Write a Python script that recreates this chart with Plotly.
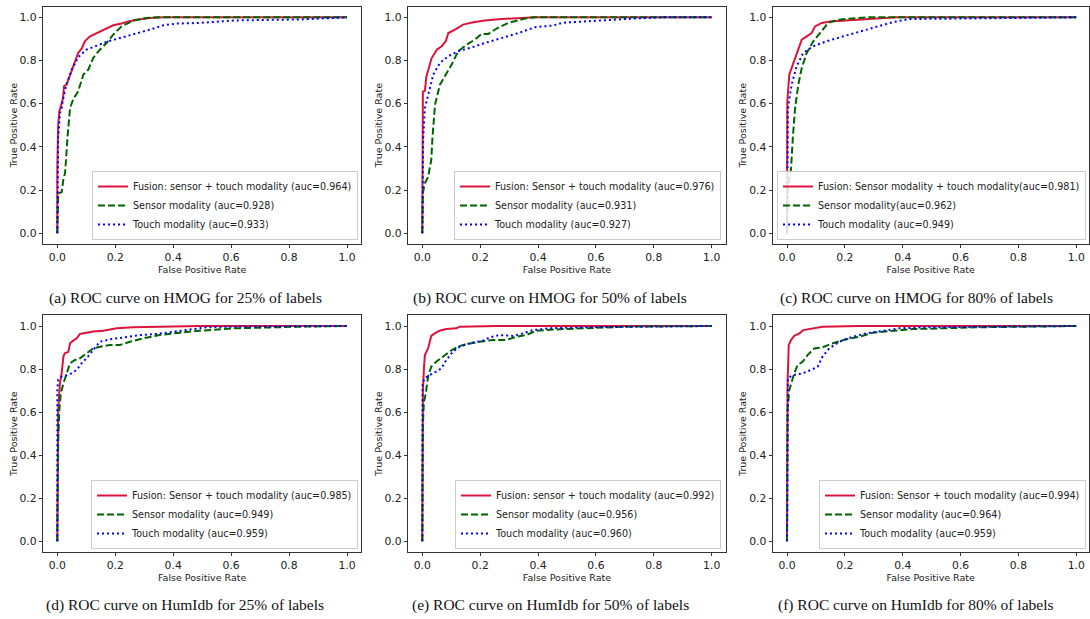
import plotly.graph_objects as go

# ---------------- data ----------------
captions = [
    "(a) ROC curve on HMOG for 25% of labels",
    "(b) ROC curve on HMOG for 50% of labels",
    "(c) ROC curve on HMOG for 80% of labels",
    "(d) ROC curve on HumIdb for 25% of labels",
    "(e) ROC curve on HumIdb for 50% of labels",
    "(f) ROC curve on HumIdb for 80% of labels",
]

names_a = ["Fusion: sensor + touch modality (auc=0.964)", "Sensor modality (auc=0.928)", "Touch modality (auc=0.933)"]
names_b = ["Fusion: Sensor + touch modality (auc=0.976)", "Sensor modality (auc=0.931)", "Touch modality (auc=0.927)"]
names_c = ["Fusion: Sensor modality + touch modality(auc=0.981)", "Sensor modality(auc=0.962)", "Touch modality (auc=0.949)"]
names_d = ["Fusion: Sensor + touch modality (auc=0.985)", "Sensor modality (auc=0.949)", "Touch modality (auc=0.959)"]
names_e = ["Fusion: sensor + touch modality (auc=0.992)", "Sensor modality (auc=0.956)", "Touch modality (auc=0.960)"]
names_f = ["Fusion: Sensor + touch modality (auc=0.994)", "Sensor modality (auc=0.964)", "Touch modality (auc=0.959)"]

# (a) HMOG 25%
a_fus_x = [0, 0.0, 0.003, 0.007, 0.013, 0.02, 0.023, 0.032, 0.038, 0.05, 0.061, 0.072, 0.084, 0.095, 0.113, 0.136, 0.159, 0.193, 0.222, 0.245, 0.274, 0.32, 0.366, 0.6, 1.0]
a_fus_y = [0, 0.3, 0.5, 0.565, 0.59, 0.627, 0.68, 0.688, 0.71, 0.758, 0.796, 0.835, 0.855, 0.889, 0.912, 0.927, 0.943, 0.963, 0.971, 0.981, 0.989, 0.997, 1.0, 1.0, 1.0]
a_sen_x = [0, 0.003, 0.015, 0.021, 0.027, 0.032, 0.035, 0.044, 0.055, 0.072, 0.09, 0.107, 0.124, 0.147, 0.17, 0.193, 0.222, 0.262, 0.308, 0.35, 0.6, 1.0]
a_sen_y = [0, 0.185, 0.19, 0.25, 0.28, 0.386, 0.44, 0.58, 0.62, 0.657, 0.735, 0.758, 0.812, 0.85, 0.881, 0.92, 0.958, 0.985, 0.997, 1.0, 1.0, 1.0]
a_tou_x = [0, 0.002, 0.003, 0.009, 0.015, 0.021, 0.032, 0.05, 0.072, 0.1, 0.136, 0.176, 0.216, 0.262, 0.32, 0.366, 0.412, 0.49, 0.55, 0.607, 0.72, 0.838, 1.0]
a_tou_y = [0, 0.3, 0.44, 0.556, 0.58, 0.63, 0.69, 0.758, 0.815, 0.85, 0.869, 0.889, 0.904, 0.92, 0.943, 0.963, 0.971, 0.974, 0.978, 0.985, 0.988, 0.99, 1.0]

# (b) HMOG 50%
b_fus_x = [0, 0.0, 0.002, 0.009, 0.014, 0.021, 0.032, 0.05, 0.067, 0.081, 0.09, 0.113, 0.141, 0.176, 0.216, 0.274, 0.343, 0.39, 0.6, 1.0]
b_fus_y = [0, 0.4, 0.656, 0.66, 0.725, 0.758, 0.81, 0.85, 0.866, 0.889, 0.927, 0.943, 0.966, 0.977, 0.985, 0.992, 0.997, 1.0, 1.0, 1.0]
b_sen_x = [0, 0.002, 0.008, 0.02, 0.031, 0.035, 0.044, 0.061, 0.078, 0.101, 0.124, 0.153, 0.182, 0.205, 0.228, 0.257, 0.297, 0.355, 0.385, 0.6, 1.0]
b_sen_y = [0, 0.185, 0.23, 0.26, 0.34, 0.44, 0.596, 0.688, 0.727, 0.78, 0.843, 0.873, 0.897, 0.923, 0.923, 0.948, 0.974, 0.994, 1.0, 1.0, 1.0]
b_tou_x = [0, 0.002, 0.003, 0.009, 0.026, 0.038, 0.061, 0.09, 0.124, 0.165, 0.216, 0.274, 0.332, 0.389, 0.452, 0.486, 0.544, 0.659, 0.74, 0.832, 1.0]
b_tou_y = [0, 0.25, 0.44, 0.58, 0.673, 0.735, 0.789, 0.82, 0.843, 0.858, 0.881, 0.904, 0.927, 0.954, 0.962, 0.975, 0.98, 0.988, 0.995, 1.0, 1.0]

# (c) HMOG 80%
c_fus_x = [0, 0.0, 0.001, 0.008, 0.016, 0.028, 0.039, 0.051, 0.068, 0.085, 0.097, 0.12, 0.149, 0.206, 0.264, 0.379, 0.6, 1.0]
c_fus_y = [0, 0.44, 0.61, 0.735, 0.765, 0.812, 0.858, 0.897, 0.912, 0.927, 0.958, 0.974, 0.981, 0.985, 0.99, 1.0, 1.0, 1.0]
c_sen_x = [0, 0.002, 0.008, 0.014, 0.02, 0.028, 0.039, 0.051, 0.068, 0.091, 0.114, 0.142, 0.177, 0.24, 0.28, 0.6, 1.0]
c_sen_y = [0, 0.2, 0.247, 0.3, 0.44, 0.58, 0.688, 0.765, 0.835, 0.889, 0.927, 0.974, 0.989, 0.997, 1.0, 1.0, 1.0]
c_tou_x = [0, 0.001, 0.003, 0.005, 0.016, 0.033, 0.056, 0.091, 0.137, 0.195, 0.252, 0.31, 0.367, 0.423, 0.517, 0.6, 0.8, 1.0]
c_tou_y = [0, 0.51, 0.56, 0.596, 0.688, 0.773, 0.835, 0.866, 0.889, 0.912, 0.935, 0.958, 0.978, 0.992, 0.994, 0.995, 0.997, 1.0]

# (d) HumIdb 25%
d_fus_x = [0, 0.002, 0.003, 0.009, 0.015, 0.021, 0.026, 0.038, 0.044, 0.055, 0.067, 0.078, 0.101, 0.124, 0.159, 0.205, 0.262, 0.377, 0.49, 1.0]
d_fus_y = [0, 0.3, 0.61, 0.733, 0.78, 0.858, 0.873, 0.88, 0.92, 0.932, 0.943, 0.963, 0.97, 0.974, 0.978, 0.989, 0.994, 0.997, 1.0, 1.0]
d_sen_x = [0, 0.003, 0.007, 0.012, 0.021, 0.032, 0.044, 0.061, 0.078, 0.101, 0.124, 0.147, 0.182, 0.216, 0.251, 0.297, 0.354, 0.423, 0.49, 0.606, 0.721, 0.837, 1.0]
d_sen_y = [0, 0.455, 0.61, 0.687, 0.733, 0.78, 0.827, 0.842, 0.85, 0.873, 0.896, 0.904, 0.912, 0.912, 0.927, 0.943, 0.958, 0.969, 0.978, 0.989, 0.994, 0.997, 1.0]
d_tou_x = [0, 0.0, 0.003, 0.015, 0.032, 0.049, 0.067, 0.084, 0.101, 0.124, 0.147, 0.182, 0.228, 0.288, 0.343, 0.4, 0.458, 0.516, 0.608, 1.0]
d_tou_y = [0, 0.703, 0.75, 0.765, 0.772, 0.78, 0.796, 0.827, 0.85, 0.889, 0.927, 0.938, 0.947, 0.958, 0.963, 0.974, 0.985, 0.994, 0.997, 1.0]

# (e) HumIdb 50%
e_fus_x = [0, 0.002, 0.006, 0.009, 0.02, 0.025, 0.031, 0.043, 0.06, 0.083, 0.118, 0.129, 0.256, 1.0]
e_fus_y = [0, 0.703, 0.811, 0.865, 0.896, 0.927, 0.954, 0.966, 0.978, 0.986, 0.989, 0.997, 1.0, 1.0]
e_sen_x = [0, 0.002, 0.005, 0.012, 0.02, 0.031, 0.048, 0.071, 0.094, 0.123, 0.152, 0.198, 0.244, 0.29, 0.325, 0.359, 0.394, 0.486, 0.601, 0.717, 1.0]
e_sen_y = [0, 0.532, 0.64, 0.687, 0.765, 0.811, 0.834, 0.858, 0.881, 0.904, 0.916, 0.927, 0.935, 0.935, 0.95, 0.958, 0.978, 0.986, 0.992, 0.997, 1.0]
e_tou_x = [0, 0.001, 0.008, 0.025, 0.048, 0.066, 0.083, 0.106, 0.129, 0.164, 0.21, 0.233, 0.267, 0.313, 0.348, 0.382, 0.44, 0.544, 1.0]
e_tou_y = [0, 0.733, 0.757, 0.772, 0.788, 0.803, 0.842, 0.881, 0.904, 0.92, 0.932, 0.947, 0.958, 0.954, 0.966, 0.981, 0.989, 0.994, 1.0]

# (f) HumIdb 80%
f_fus_x = [0, 0.002, 0.006, 0.014, 0.025, 0.043, 0.056, 0.089, 0.123, 0.25, 1.0]
f_fus_y = [0, 0.733, 0.912, 0.935, 0.954, 0.966, 0.981, 0.989, 0.997, 1.0, 1.0]
f_sen_x = [0, 0.002, 0.008, 0.014, 0.025, 0.037, 0.054, 0.071, 0.094, 0.123, 0.158, 0.204, 0.25, 0.296, 0.365, 0.434, 0.538, 0.653, 1.0]
f_sen_y = [0, 0.61, 0.703, 0.733, 0.78, 0.819, 0.834, 0.865, 0.896, 0.901, 0.92, 0.938, 0.95, 0.969, 0.978, 0.986, 0.989, 0.994, 1.0]
f_tou_x = [0, 0.001, 0.003, 0.02, 0.054, 0.083, 0.106, 0.123, 0.146, 0.181, 0.227, 0.273, 0.331, 0.388, 0.48, 1.0]
f_tou_y = [0, 0.672, 0.757, 0.772, 0.78, 0.796, 0.811, 0.858, 0.896, 0.927, 0.95, 0.966, 0.978, 0.989, 0.994, 1.0]

x_ticks = [0.0, 0.2, 0.4, 0.6, 0.8, 1.0]
y_ticks = [0.0, 0.2, 0.4, 0.6, 0.8, 1.0]
tick_text = ["0.0", "0.2", "0.4", "0.6", "0.8", "1.0"]

panels = [
    (names_a, (a_fus_x, a_fus_y), (a_sen_x, a_sen_y), (a_tou_x, a_tou_y)),
    (names_b, (b_fus_x, b_fus_y), (b_sen_x, b_sen_y), (b_tou_x, b_tou_y)),
    (names_c, (c_fus_x, c_fus_y), (c_sen_x, c_sen_y), (c_tou_x, c_tou_y)),
    (names_d, (d_fus_x, d_fus_y), (d_sen_x, d_sen_y), (d_tou_x, d_tou_y)),
    (names_e, (e_fus_x, e_fus_y), (e_sen_x, e_sen_y), (e_tou_x, e_tou_y)),
    (names_f, (f_fus_x, f_fus_y), (f_sen_x, f_sen_y), (f_tou_x, f_tou_y)),
]

# ---------------- layout (pixels) ----------------
W, H = 1090, 619
# x pixel of data 0 and 1 for each column, y pixel of data 1 and 0 for each row
col_px = [(57.3, 347.0), (422.3, 711.7), (787.0, 1076.3)]
row_px = [(17.3, 233.3), (326.0, 541.3)]
legend_right = [358, 721, 1086]
legend_bottom = [240, 549]
caption_cx = [185, 550, 916]
caption_cy = [298, 605]

styles = [
    dict(color="crimson", width=2, dash="solid"),
    dict(color="darkgreen", width=2, dash="7px,3px"),
    dict(color="blue", width=2, dash="2px,3px"),
]

fig = go.Figure()
FONT = "DejaVu Sans"
for i, (names, *curves) in enumerate(panels):
    r, c = divmod(i, 3)
    k = i + 1
    xs = "" if k == 1 else str(k)
    x0, x1 = col_px[c]
    span = x1 - x0
    left = x0 - 0.05 * span
    right = min(x1 + 0.05 * span, W - 1)
    y1p, y0p = row_px[r]
    vspan = y0p - y1p
    top = y1p - 0.05 * vspan
    bot = y0p + 0.05 * vspan
    rng_right = (right - x0) / span
    leg = "legend" if k == 1 else f"legend{k}"
    for (cx, cy), name, st in zip(curves, names, styles):
        fig.add_trace(go.Scatter(
            x=cx, y=cy, mode="lines", name=name, line=st,
            xaxis="x" + xs, yaxis="y" + xs, legend=leg,
        ))
    axcommon = dict(
        showgrid=False, zeroline=False, showline=True, mirror=True,
        linecolor="#333333", linewidth=1, ticks="outside", ticklen=3,
        tickcolor="#333333", tickfont=dict(family=FONT, size=10.8, color="#222222"),
        title_font=dict(family=FONT, size=9.5, color="#222222"),
    )
    fig.layout["xaxis" + xs] = dict(
        axcommon, domain=[left / W, right / W], range=[-0.05, rng_right],
        anchor="y" + xs, tickvals=x_ticks, ticktext=tick_text,
        title=dict(text="False Positive Rate", standoff=1),
    )
    fig.layout["yaxis" + xs] = dict(
        axcommon, domain=[1 - bot / H, 1 - top / H], range=[-0.05, 1.05],
        anchor="x" + xs, tickvals=y_ticks, ticktext=tick_text,
        title=dict(text="True Positive Rate", standoff=0),
    )
    fig.layout[leg] = dict(
        x=legend_right[c] / W, y=1 - legend_bottom[r] / H,
        xanchor="right", yanchor="bottom",
        bgcolor="rgba(255,255,255,0.85)", bordercolor="#cccccc", borderwidth=1,
        font=dict(family=FONT, size=9.6, color="#222222"),
        tracegroupgap=0, itemwidth=30,
    )
    fig.add_annotation(
        text=captions[i], xref="paper", yref="paper",
        x=caption_cx[c] / W, y=1 - caption_cy[r] / H,
        xanchor="center", yanchor="middle", showarrow=False,
        font=dict(family="Liberation Serif", size=15.5, color="#111111"),
    )

fig.update_layout(
    width=W, height=H, margin=dict(l=0, r=0, t=0, b=0),
    paper_bgcolor="white", plot_bgcolor="white", showlegend=True,
)
fig.write_html(
    "out.html",
    config={"displayModeBar": False},
    post_script="document.body.style.margin='0';document.body.style.overflow='hidden';",
)
